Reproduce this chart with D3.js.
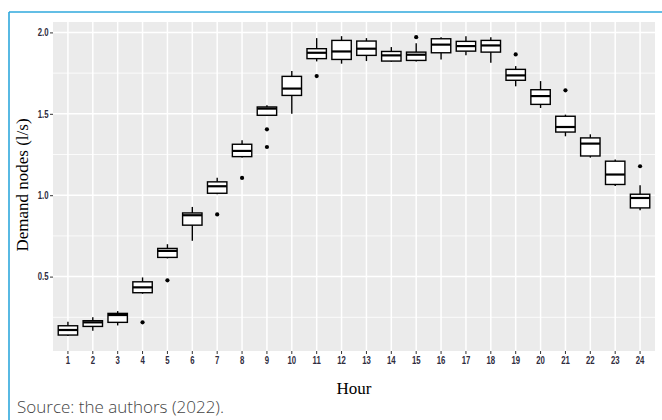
<!DOCTYPE html>
<html>
<head>
<meta charset="utf-8">
<script src="https://cdn.jsdelivr.net/npm/d3@7"></script>
<style>
  html, body { margin: 0; padding: 0; background: #fff; }
  svg { display: block; }
</style>
</head>
<body>
<svg id="chart" width="662" height="420"></svg>
<script>
// Hourly demand per node (l/s): box-plot summaries for each hour of the day
const hours       = d3.range(1, 25).map(String);
const whiskerLow  = [0.135, 0.167, 0.200, 0.395, 0.612, 0.720, 1.006, 1.231, 1.488, 1.501, 1.822, 1.808,
                     1.824, 1.820, 1.822, 1.833, 1.859, 1.814, 1.669, 1.536, 1.362, 1.231, 1.057, 0.908];
const q1          = [0.141, 0.194, 0.219, 0.401, 0.618, 0.816, 1.012, 1.237, 1.491, 1.613, 1.839, 1.834,
                     1.859, 1.824, 1.828, 1.875, 1.885, 1.879, 1.706, 1.558, 1.388, 1.241, 1.066, 0.922];
const medians     = [0.172, 0.219, 0.264, 0.434, 0.658, 0.877, 1.055, 1.272, 1.532, 1.655, 1.875, 1.883,
                     1.900, 1.859, 1.863, 1.925, 1.916, 1.920, 1.736, 1.609, 1.419, 1.317, 1.127, 0.983];
const q3          = [0.198, 0.229, 0.274, 0.468, 0.673, 0.891, 1.082, 1.313, 1.542, 1.730, 1.900, 1.951,
                     1.947, 1.883, 1.879, 1.961, 1.945, 1.951, 1.773, 1.648, 1.485, 1.352, 1.209, 1.006];
const whiskerHigh = [0.223, 0.250, 0.288, 0.495, 0.699, 0.928, 1.107, 1.337, 1.552, 1.763, 1.965, 1.977,
                     1.965, 1.910, 1.934, 1.971, 1.977, 1.971, 1.793, 1.701, 1.495, 1.374, 1.219, 1.061];
const outlierHours  = ["4", "5", "7", "8", "9", "9", "11", "15", "19", "21", "24"];
const outlierValues = [0.219, 0.477, 0.882, 1.106, 1.405, 1.296, 1.732, 1.971, 1.865, 1.644, 1.178];
const yTicks      = [0.5, 1.0, 1.5, 2.0];
const yMinorTicks = [0.25, 0.75, 1.25, 1.75];

const svg = d3.select("#chart");
const panel = { left: 53, right: 655, top: 22, bottom: 351 };

// Outer frame rules
svg.append("line").attr("x1", 9).attr("x2", 662).attr("y1", 12).attr("y2", 12)
  .attr("stroke", "#2fa8dc").attr("stroke-width", 1.6);
svg.append("line").attr("x1", 9).attr("x2", 9).attr("y1", 12).attr("y2", 420)
  .attr("stroke", "#2fa8dc").attr("stroke-width", 1.6);

const x = d3.scaleBand().domain(hours).range([panel.left, panel.right])
  .paddingInner(0).paddingOuter(0.1);
const y = d3.scaleLinear().domain([0.043, 2.064]).range([panel.bottom, panel.top]);
const cx = h => x(h) + x.bandwidth() / 2;

// Panel background and grid
svg.append("rect").attr("x", panel.left).attr("y", panel.top)
  .attr("width", panel.right - panel.left).attr("height", panel.bottom - panel.top)
  .attr("fill", "#ebebeb");

const grid = svg.append("g");
grid.selectAll(".minor").data(yMinorTicks).join("line")
  .attr("x1", panel.left).attr("x2", panel.right)
  .attr("y1", d => y(d)).attr("y2", d => y(d))
  .attr("stroke", "#fff").attr("stroke-width", 0.8);
grid.selectAll(".majorY").data(yTicks).join("line")
  .attr("x1", panel.left).attr("x2", panel.right)
  .attr("y1", d => y(d)).attr("y2", d => y(d))
  .attr("stroke", "#fff").attr("stroke-width", 1.5);
grid.selectAll(".majorX").data(hours).join("line")
  .attr("x1", d => cx(d)).attr("x2", d => cx(d))
  .attr("y1", panel.top).attr("y2", panel.bottom)
  .attr("stroke", "#fff").attr("stroke-width", 1.5);

// Axes
const xAxis = svg.append("g").attr("transform", `translate(0,${panel.bottom})`)
  .call(d3.axisBottom(x).tickSize(3).tickPadding(3));
const yAxis = svg.append("g").attr("transform", `translate(${panel.left},0)`)
  .call(d3.axisLeft(y).tickValues(yTicks).tickFormat(d3.format(".1f")).tickSize(3).tickPadding(3));
[xAxis, yAxis].forEach(a => {
  a.select(".domain").remove();
  a.selectAll(".tick line").attr("stroke", "#333").attr("stroke-width", 1);
  a.selectAll(".tick text").attr("fill", "#2f2c3e")
    .style("font-family", "'Liberation Sans', Arial, sans-serif")
    .style("font-size", "10.5px").style("font-weight", "bold")
    .attr("transform", "scale(0.74,1)");
});

// Boxes
const boxW = x.bandwidth() * 0.78;
const boxes = svg.append("g").selectAll("g").data(hours).join("g");
boxes.append("line")
  .attr("x1", d => cx(d)).attr("x2", d => cx(d))
  .attr("y1", (d, i) => y(whiskerHigh[i])).attr("y2", (d, i) => y(q3[i]))
  .attr("stroke", "#000").attr("stroke-width", 1.4);
boxes.append("line")
  .attr("x1", d => cx(d)).attr("x2", d => cx(d))
  .attr("y1", (d, i) => y(q1[i])).attr("y2", (d, i) => y(whiskerLow[i]))
  .attr("stroke", "#000").attr("stroke-width", 1.4);
boxes.append("rect")
  .attr("x", d => cx(d) - boxW / 2).attr("width", boxW)
  .attr("y", (d, i) => y(q3[i]))
  .attr("height", (d, i) => y(q1[i]) - y(q3[i]))
  .attr("fill", "#fff").attr("stroke", "#000").attr("stroke-width", 1.4);
boxes.append("line")
  .attr("x1", d => cx(d) - boxW / 2).attr("x2", d => cx(d) + boxW / 2)
  .attr("y1", (d, i) => y(medians[i])).attr("y2", (d, i) => y(medians[i]))
  .attr("stroke", "#000").attr("stroke-width", 2.2);

// Outliers
svg.append("g").selectAll("circle").data(outlierHours).join("circle")
  .attr("cx", d => cx(d)).attr("cy", (d, i) => y(outlierValues[i]))
  .attr("r", 2.1).attr("fill", "#000");

// Axis titles
svg.append("text").attr("x", (panel.left + panel.right) / 2).attr("y", 394)
  .attr("text-anchor", "middle")
  .style("font-family", "'Liberation Serif', 'Times New Roman', serif").style("font-size", "17px")
  .attr("fill", "#000").text("Hour");
svg.append("text").attr("transform", "translate(28,185) rotate(-90)")
  .attr("text-anchor", "middle")
  .style("font-family", "'Liberation Serif', 'Times New Roman', serif").style("font-size", "17px")
  .attr("fill", "#000").text("Demand nodes (l/s)");

// Source note
svg.append("text").attr("x", 17).attr("y", 413)
  .style("font-family", "'Open Sans', Lato, sans-serif").style("font-size", "17px")
  .style("font-weight", 300).attr("fill", "#444")
  .text("Source: the authors (2022).");
</script>
</body>
</html>
